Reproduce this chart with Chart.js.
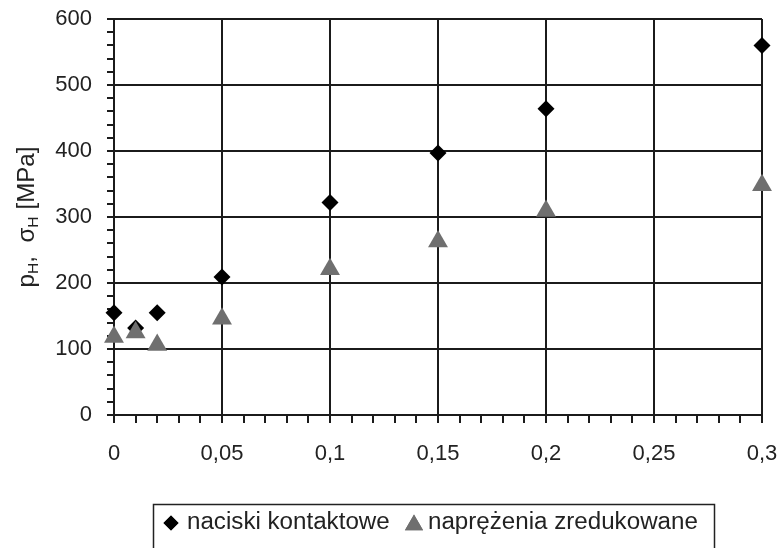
<!DOCTYPE html>
<html>
<head>
<meta charset="utf-8">
<script src="https://cdn.jsdelivr.net/npm/chart.js@4.4.0/dist/chart.umd.min.js"></script>
<style>
  html, body { margin: 0; padding: 0; background: #fff; }
  #wrap { position: relative; width: 782px; height: 548px; }
</style>
</head>
<body>
<div id="wrap"><canvas id="myChart" width="782" height="548"></canvas></div>
<script>
// dane
var xValues = [0, 0.01, 0.02, 0.05, 0.1, 0.15, 0.2, 0.3];
var naciski = [155, 132, 155, 209, 322, 397, 464, 560];
var naprezenia = [118, 125, 106, 146, 221, 263, 309, 348];
var seriesNames = ['naciski kontaktowe', 'naprężenia zredukowane'];
var xTickStep = 0.01, xLabelStep = 0.05;
var yTickStep = 20, yLabelStep = 100;

var FONT = '"Liberation Sans", Arial, sans-serif';
var GRID = '#1b1b1b';
var GREY = '#6f6f6f';

function toPoints(ys) {
  return xValues.map(function (x, i) { return { x: x, y: ys[i] }; });
}
function isMult(v, step) {
  var k = v / step;
  return Math.abs(k - Math.round(k)) < 1e-6;
}

// tytul osi Y z indeksami dolnymi + legenda w ramce
var extras = {
  id: 'extras',
  afterDraw: function (chart) {
    var ctx = chart.ctx;
    var area = chart.chartArea;

    // tytul osi
    var parts = [
      { t: 'p', s: 23, dy: 0 },
      { t: 'H', s: 15, dy: 4 },
      { t: ',  ', s: 23, dy: 0 },
      { t: 'σ', s: 23, dy: 0 },
      { t: 'H', s: 15, dy: 4 },
      { t: ' [MPa]', s: 23, dy: 0 }
    ];
    ctx.save();
    ctx.fillStyle = '#222';
    ctx.textBaseline = 'alphabetic';
    ctx.textAlign = 'left';
    var total = 0;
    parts.forEach(function (p) { ctx.font = p.s + 'px ' + FONT; p.w = ctx.measureText(p.t).width; total += p.w; });
    ctx.translate(34, (area.top + area.bottom) / 2);
    ctx.rotate(-Math.PI / 2);
    ctx.scale(1.05, 1);
    var px = -total / 2;
    parts.forEach(function (p) {
      ctx.font = p.s + 'px ' + FONT;
      ctx.fillText(p.t, px, p.dy);
      px += p.w;
    });
    ctx.restore();

    // legenda
    ctx.save();
    ctx.strokeStyle = '#222';
    ctx.lineWidth = 1.5;
    ctx.strokeRect(153.5, 504.5, 561, 60);
    var ly = 523;
    ctx.fillStyle = '#000';
    Chart.helpers.drawPoint(ctx, { pointStyle: 'rectRot', radius: 7.5, rotation: 0, borderWidth: 0 }, 171, ly);
    ctx.fill();
    ctx.fillStyle = GREY;
    Chart.helpers.drawPoint(ctx, { pointStyle: 'triangle', radius: 10.5, rotation: 0, borderWidth: 0 }, 414, ly + 2);
    ctx.fill();
    ctx.fillStyle = '#222';
    ctx.font = '23px ' + FONT;
    ctx.textBaseline = 'middle';
    ctx.save();
    ctx.translate(187, ly);
    ctx.scale(1.05, 1);
    ctx.fillText(seriesNames[0], 0, 0);
    ctx.restore();
    ctx.save();
    ctx.translate(428, ly);
    ctx.scale(1.05, 1);
    ctx.fillText(seriesNames[1], 0, 0);
    ctx.restore();
    ctx.restore();
  }
};

var ctx = document.getElementById('myChart').getContext('2d');
var myChart = new Chart(ctx, {
  type: 'scatter',
  data: {
    datasets: [{
      label: seriesNames[0],
      data: toPoints(naciski),
      pointStyle: 'rectRot',
      pointRadius: 8.5,
      pointBackgroundColor: '#000',
      pointBorderWidth: 0,
      order: 1,
      clip: false
    }, {
      label: seriesNames[1],
      data: toPoints(naprezenia),
      pointStyle: 'triangle',
      pointRadius: 11.5,
      pointBackgroundColor: GREY,
      pointBorderWidth: 0,
      order: 0,
      clip: false
    }]
  },
  options: {
    responsive: false,
    animation: false,
    layout: { padding: { left: 0, right: 20, top: 19, bottom: 73 } },
    plugins: {
      legend: { display: false },
      tooltip: { enabled: false }
    },
    scales: {
      x: {
        type: 'linear',
        min: 0,
        max: 0.3,
        afterFit: function (scale) {
          scale.height = 60;
          scale.paddingLeft = 0;
          scale.paddingRight = 0;
        },
        border: { color: GRID, width: 2 },
        grid: {
          color: function (c) { return isMult(c.tick.value, xLabelStep) ? GRID : 'rgba(0,0,0,0)'; },
          lineWidth: 2,
          tickColor: GRID,
          tickWidth: 2,
          tickLength: 8
        },
        ticks: {
          stepSize: xTickStep,
          autoSkip: false,
          maxRotation: 0,
          padding: 18,
          color: '#222',
          font: { family: FONT, size: 22 },
          callback: function (v) {
            if (!isMult(v, xLabelStep)) return '';
            return String(Math.round(v * 100) / 100).replace('.', ',');
          }
        }
      },
      y: {
        min: 0,
        max: 600,
        afterFit: function (scale) {
          scale.width = 114;
          scale.paddingTop = 0;
          scale.paddingBottom = 0;
        },
        border: { color: GRID, width: 2 },
        grid: {
          color: function (c) { return isMult(c.tick.value, yLabelStep) ? GRID : 'rgba(0,0,0,0)'; },
          lineWidth: 2,
          tickColor: GRID,
          tickWidth: 2,
          tickLength: 7
        },
        ticks: {
          stepSize: yTickStep,
          autoSkip: false,
          padding: 15,
          color: '#222',
          font: { family: FONT, size: 22 },
          callback: function (v) {
            return isMult(v, yLabelStep) ? String(v) : '';
          }
        }
      }
    }
  },
  plugins: [extras]
});
</script>
</body>
</html>
